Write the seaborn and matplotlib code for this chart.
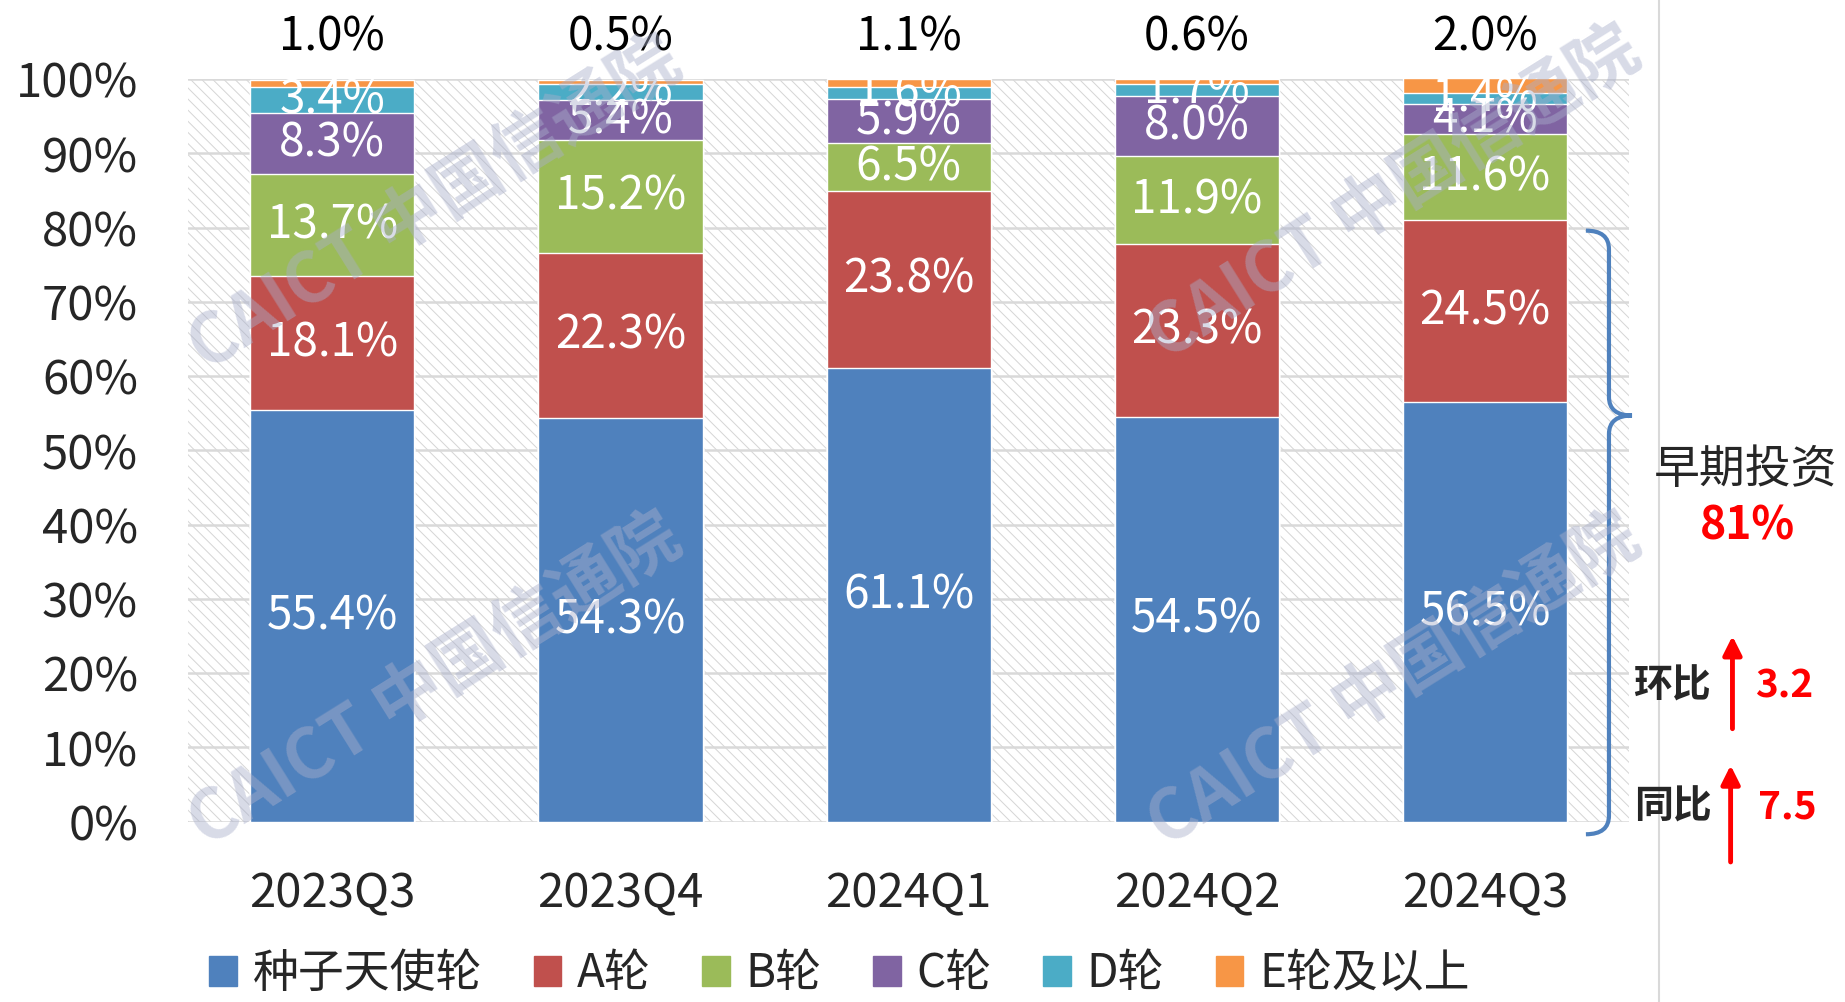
import numpy as np
import matplotlib
matplotlib.use("Agg")
import matplotlib.pyplot as plt
import seaborn as sns
from matplotlib.patches import Rectangle, PathPatch, FancyArrowPatch
from matplotlib.path import Path
from matplotlib.lines import Line2D

# 数据（%）
quarters = ["2023Q3", "2023Q4", "2024Q1", "2024Q2", "2024Q3"]
rounds = ["种子天使轮", "A轮", "B轮", "C轮", "D轮", "E轮及以上"]
seed_angel = [55.4, 54.3, 61.1, 54.5, 56.5]
round_a = [18.1, 22.3, 23.8, 23.3, 24.5]
round_b = [13.7, 15.2, 6.5, 11.9, 11.6]
round_c = [8.3, 5.4, 5.9, 8.0, 4.1]
round_d = [3.4, 2.2, 1.6, 1.7, 1.4]
round_e = [1.0, 0.5, 1.1, 0.6, 2.0]
early_share = "81%"
qoq_change = "3.2"
yoy_change = "7.5"

colors = ["#4F81BD", "#C0504D", "#9BBB59", "#8064A2", "#4BACC6", "#F79646"]

sns.set_theme(style="white")
plt.rcParams["font.family"] = ["Noto Sans CJK SC", "DejaVu Sans"]
plt.rcParams["hatch.linewidth"] = 0.7

fig = plt.figure(figsize=(18.45, 10.02), dpi=100)
ax = fig.add_axes([0.102, 0.180, 0.781, 0.741])

series = [seed_angel, round_a, round_b, round_c, round_d, round_e]
cum = np.cumsum(np.array(series), axis=0)

# 背景斜线
ax.add_patch(Rectangle((0, 0), 1, 1, transform=ax.transAxes, fill=False,
                       hatch="\\\\\\", edgecolor="#D5D5D5", lw=0, zorder=0))

# 堆叠柱：从顶层往下叠画
for i in range(len(series) - 1, -1, -1):
    sns.barplot(x=quarters, y=cum[i], color=colors[i], saturation=1,
                width=0.57, ax=ax, zorder=3)

# 数据标签
for i, vals in enumerate(series):
    for j, v in enumerate(vals):
        if i == len(series) - 1:
            ax.text(j, 105.6, f"{v:.1f}%", ha="center", va="center",
                    fontsize=33, color="black", clip_on=False)
        else:
            ax.text(j, cum[i][j] - v / 2, f"{v:.1f}%", ha="center", va="center",
                    fontsize=33, color="white", zorder=5, clip_on=True)

ax.set_ylim(0, 100)
ax.set_xlim(-0.5, 4.5)
ax.set_yticks(np.arange(0, 101, 10))
ax.set_yticklabels([f"{t}%" for t in range(0, 101, 10)])
ax.tick_params(axis="y", labelsize=34, length=0, pad=36)
ax.tick_params(axis="x", labelsize=34, length=0, pad=35)
ax.set_xlabel("")
ax.set_ylabel("")
ax.yaxis.grid(True, color="#D9D9D9", lw=1.8)
ax.set_axisbelow(True)
for s in ax.spines.values():
    s.set_visible(False)

# 右侧大括号
lo, hi = -1.7, cum[1][-1] - 1.4
tip = 54.7
x0, xl, xt = 4.43, 4.35, 4.51
verts = [(xl, hi), (x0, hi), (x0, hi - 2.5), (x0, tip + 2.5), (x0, tip), (xt, tip),
         (x0, tip), (x0, tip - 2.5), (x0, lo + 2.5), (x0, lo), (xl, lo)]
codes = [Path.MOVETO, Path.CURVE3, Path.CURVE3, Path.LINETO, Path.CURVE3, Path.CURVE3,
         Path.CURVE3, Path.CURVE3, Path.LINETO, Path.CURVE3, Path.CURVE3]
ax.add_patch(PathPatch(Path(verts, codes), fill=False, edgecolor="#4F81BD",
                       lw=3, clip_on=False, zorder=6))

# 图例
handles = [Rectangle((0, 0), 1, 1, color=c) for c in colors]
fig.legend(handles, rounds, loc="center", bbox_to_anchor=(0.455, 0.028), ncol=6,
           frameon=False, fontsize=33, handlelength=0.6, handleheight=0.6,
           handletextpad=0.35, columnspacing=1.12)

# 右侧注释
fig.add_artist(Line2D([0.899, 0.899], [0, 1], transform=fig.transFigure,
                      color="#D9D9D9", lw=1.5))
fig.text(0.946, 0.531, "早期投资", ha="center", va="center", fontsize=33)
fig.text(0.947, 0.475, early_share, ha="center", va="center", fontsize=32,
         color="red", fontweight="bold")
fig.text(0.906, 0.315, "环比", ha="center", va="center", fontsize=28, fontweight="bold")
fig.text(0.967, 0.315, qoq_change, ha="center", va="center", fontsize=28,
         color="red", fontweight="bold")
fig.text(0.907, 0.195, "同比", ha="center", va="center", fontsize=28, fontweight="bold")
fig.text(0.969, 0.195, yoy_change, ha="center", va="center", fontsize=28,
         color="red", fontweight="bold")
for xa, y0, y1 in [(0.939, 0.270, 0.368), (0.938, 0.137, 0.239)]:
    fig.add_artist(FancyArrowPatch(
        (xa, y0), (xa, y1), transform=fig.transFigure, arrowstyle="-|>",
        mutation_scale=28, color="red", lw=3.5))

# 水印
for wx, wy in [(0.236, 0.795), (0.236, 0.32), (0.756, 0.806), (0.756, 0.32)]:
    fig.text(wx, wy, "CAICT 中国信通院", ha="center", va="center", fontsize=50,
             rotation=32, color="#A9AFCB", alpha=0.45, fontweight="bold", zorder=10)

fig.savefig("out.png", dpi=100)
